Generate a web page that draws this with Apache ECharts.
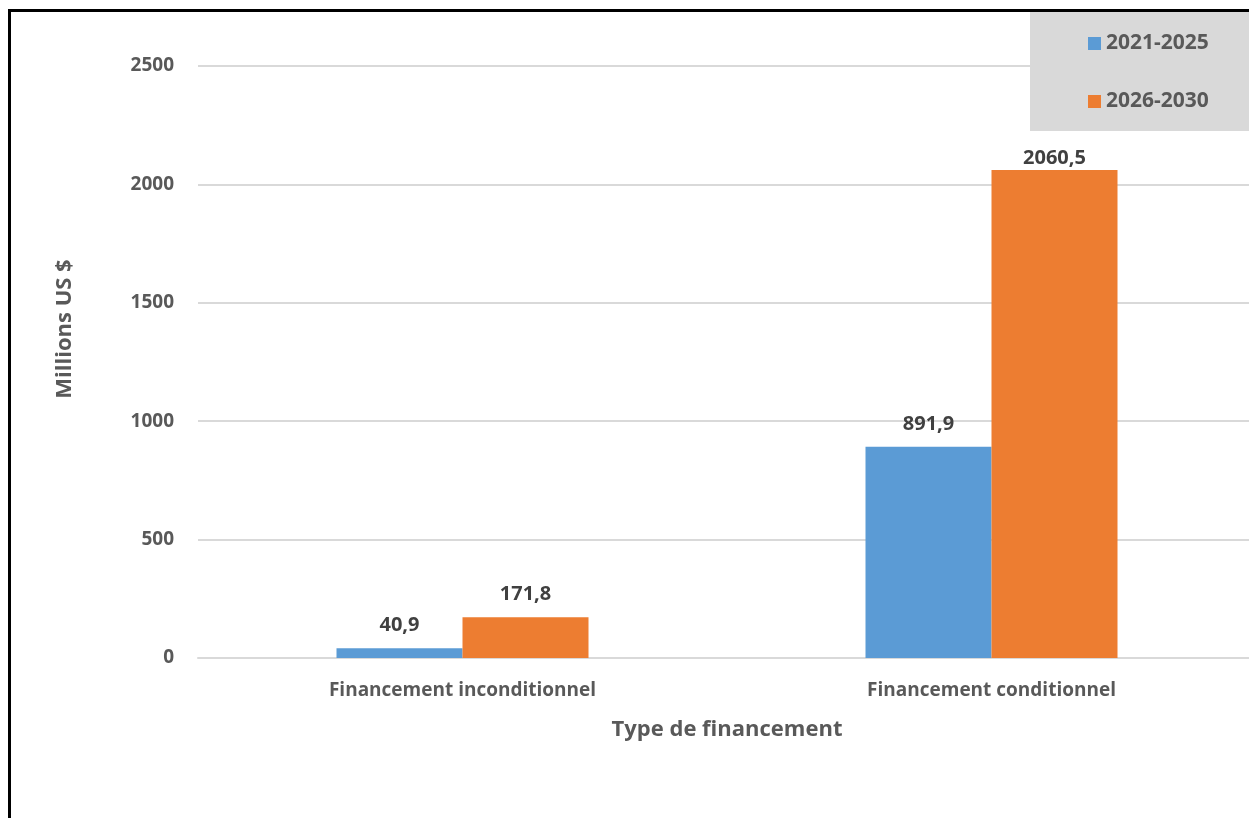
<!DOCTYPE html>
<html>
<head>
<meta charset="utf-8">
<script src="https://cdn.jsdelivr.net/npm/echarts@6/dist/echarts.min.js"></script>
<style>
  html, body { margin: 0; padding: 0; background: #fff; overflow: hidden; }
  #chart { width: 1256px; height: 818px; }
</style>
</head>
<body>
<div id="chart"></div>
<script>
// données
const categories = ['Financement inconditionnel', 'Financement conditionnel']
const periode1 = [40.9, 891.9]
const periode2 = [171.8, 2060.5]
const seriesNames = ['2021-2025', '2026-2030']

const FONT = 'Open Sans'
const fmt = p => String(p.value).replace('.', ',')

// le libellé du haut est tassé sous la légende
const data2 = periode2.map((v, i) => i === 1 ? { value: v, label: { distance: 2 } } : v)

var myChart = echarts.init(document.getElementById('chart'))
myChart.setOption({
  animation: false,
  textStyle: { fontFamily: FONT },
  graphic: [
    // cadre
    { type: 'rect', left: 7, top: 8, shape: { width: 1400, height: 1000 }, style: { fill: 'none', stroke: '#000', lineWidth: 3 }, z: 0 },
    // fond de la légende
    { type: 'rect', left: 1030, top: 12, shape: { width: 240, height: 119 }, style: { fill: '#d9d9d9' }, z: 0 },
    // titre de l'axe vertical
    {
      type: 'text', x: 65, y: 329, rotation: Math.PI / 2,
      style: { text: 'Millions US $', fontFamily: FONT, fontSize: 22, fontWeight: 'bold', fill: '#595959', align: 'center', verticalAlign: 'middle' }
    }
  ],
  legend: {
    orient: 'vertical',
    left: 1083,
    top: 28,
    itemWidth: 13,
    itemHeight: 13,
    itemGap: 37,
    icon: 'rect',
    textStyle: { fontFamily: FONT, fontSize: 21, fontWeight: 'bold', color: '#595959' },
    data: seriesNames
  },
  grid: {
    left: 198,
    right: 0,
    top: 66,
    bottom: 160,
    containLabel: false
  },
  xAxis: {
    type: 'category',
    data: categories,
    name: 'Type de financement',
    nameLocation: 'middle',
    nameGap: 61,
    nameTextStyle: { fontFamily: FONT, fontSize: 22, fontWeight: 'bold', color: '#595959' },
    axisLine: { lineStyle: { color: '#d9d9d9', width: 2 } },
    axisTick: { show: false },
    axisLabel: { fontFamily: FONT, fontSize: 19, fontWeight: 'bold', color: '#595959', margin: 23 }
  },
  yAxis: {
    type: 'value',
    min: 0,
    max: 2500,
    interval: 500,
    axisLine: { show: false },
    axisTick: { show: false },
    splitLine: { lineStyle: { color: '#d9d9d9', width: 2 } },
    axisLabel: { fontFamily: FONT, fontSize: 19, fontWeight: 'bold', color: '#595959', margin: 24, formatter: v => String(v) }
  },
  series: [
    {
      name: seriesNames[0],
      type: 'bar',
      data: periode1,
      barWidth: 126,
      barGap: '0%',
      itemStyle: { color: '#5b9bd5' },
      label: { show: true, position: 'top', distance: 13, formatter: fmt, fontFamily: FONT, fontSize: 20, fontWeight: 'bold', color: '#404040' }
    },
    {
      name: seriesNames[1],
      type: 'bar',
      data: data2,
      barWidth: 126,
      barGap: '0%',
      itemStyle: { color: '#ed7d31' },
      label: { show: true, position: 'top', distance: 13, formatter: fmt, fontFamily: FONT, fontSize: 20, fontWeight: 'bold', color: '#404040' }
    }
  ]
})
</script>
</body>
</html>
